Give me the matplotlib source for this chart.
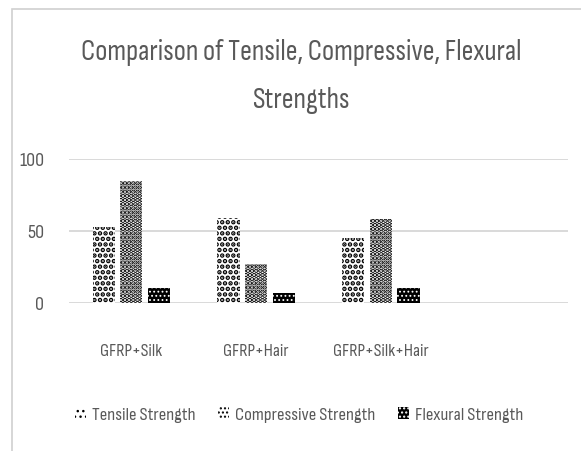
import matplotlib
matplotlib.use("Agg")
import matplotlib.pyplot as plt
import numpy as np
from matplotlib.patches import Rectangle

plt.rcParams['font.family'] = ['Sofia Sans Condensed', 'Carlito', 'DejaVu Sans']

categories = ['GFRP+Silk', 'GFRP+Hair', 'GFRP+Silk+Hair', '']
tensile = [53, 59, 45, np.nan]
compressive = [85, 27, 58, np.nan]
flexural = [10, 7, 10, np.nan]
series_names = ['Tensile Strength', 'Compressive Strength', 'Flexural Strength']
yticks = [0, 50, 100]

text_grey = '#595959'
grid_grey = '#d9d9d9'

fig = plt.figure(figsize=(5.81, 4.51), dpi=100)
ax = fig.add_axes([69/581, 1 - 302.7/451, 499/581, 143.5/451])

x = np.arange(len(categories))
w = 0.178
step = 0.222

# pattern fills: (hatch, face, hatch colour, hatch width)
styles = [
    ('...', 'white', 'black', 2.3),
    ('....', 'white', 'black', 2.3),
    ('....', 'black', 'white', 0.8),
]

bars = []
for i, (vals, (hatch, fc, hc, hlw)) in enumerate(zip([tensile, compressive, flexural], styles)):
    with plt.rc_context({'hatch.linewidth': hlw}):
        b = ax.bar(x + (i - 1) * step, vals, width=w, color=fc, edgecolor=hc,
                   hatch=hatch, linewidth=0, label=series_names[i], zorder=3)
        for p in b:
            if hasattr(p, 'set_hatch_linewidth'):
                p.set_hatch_linewidth(hlw)
    bars.append(b)

ax.set_xlim(-0.5, len(categories) - 0.5)
ax.set_ylim(0, 100)
ax.set_yticks(yticks)
ax.set_xticks(x)
ax.set_xticklabels(categories)
ax.tick_params(axis='both', length=0, colors=text_grey)
ax.tick_params(axis='y', labelsize=14.5, pad=18)
ax.tick_params(axis='x', labelsize=13, pad=30)
ax.grid(axis='y', color=grid_grey, linewidth=1.4, zorder=0)
for s in ax.spines.values():
    s.set_visible(False)

fig.text(0.518, 0.830, 'Comparison of Tensile, Compressive, Flexural\nStrengths',
         ha='center', va='center', fontsize=21, color=text_grey, linespacing=2.0)

leg = fig.legend(handles=bars, labels=series_names, loc='center', bbox_to_anchor=(0.515, 0.08),
                 ncol=3, frameon=False, fontsize=13.5, labelcolor=text_grey,
                 handlelength=0.6, handleheight=0.6, handletextpad=0.3, columnspacing=1.2)

# outer chart border
fig.add_artist(Rectangle((12/581, -0.1), 1.2, 1 - 9/451 + 0.1, transform=fig.transFigure,
                         fill=False, edgecolor='#d0d0d0', linewidth=1.2))

fig.savefig('out.png', dpi=100)
